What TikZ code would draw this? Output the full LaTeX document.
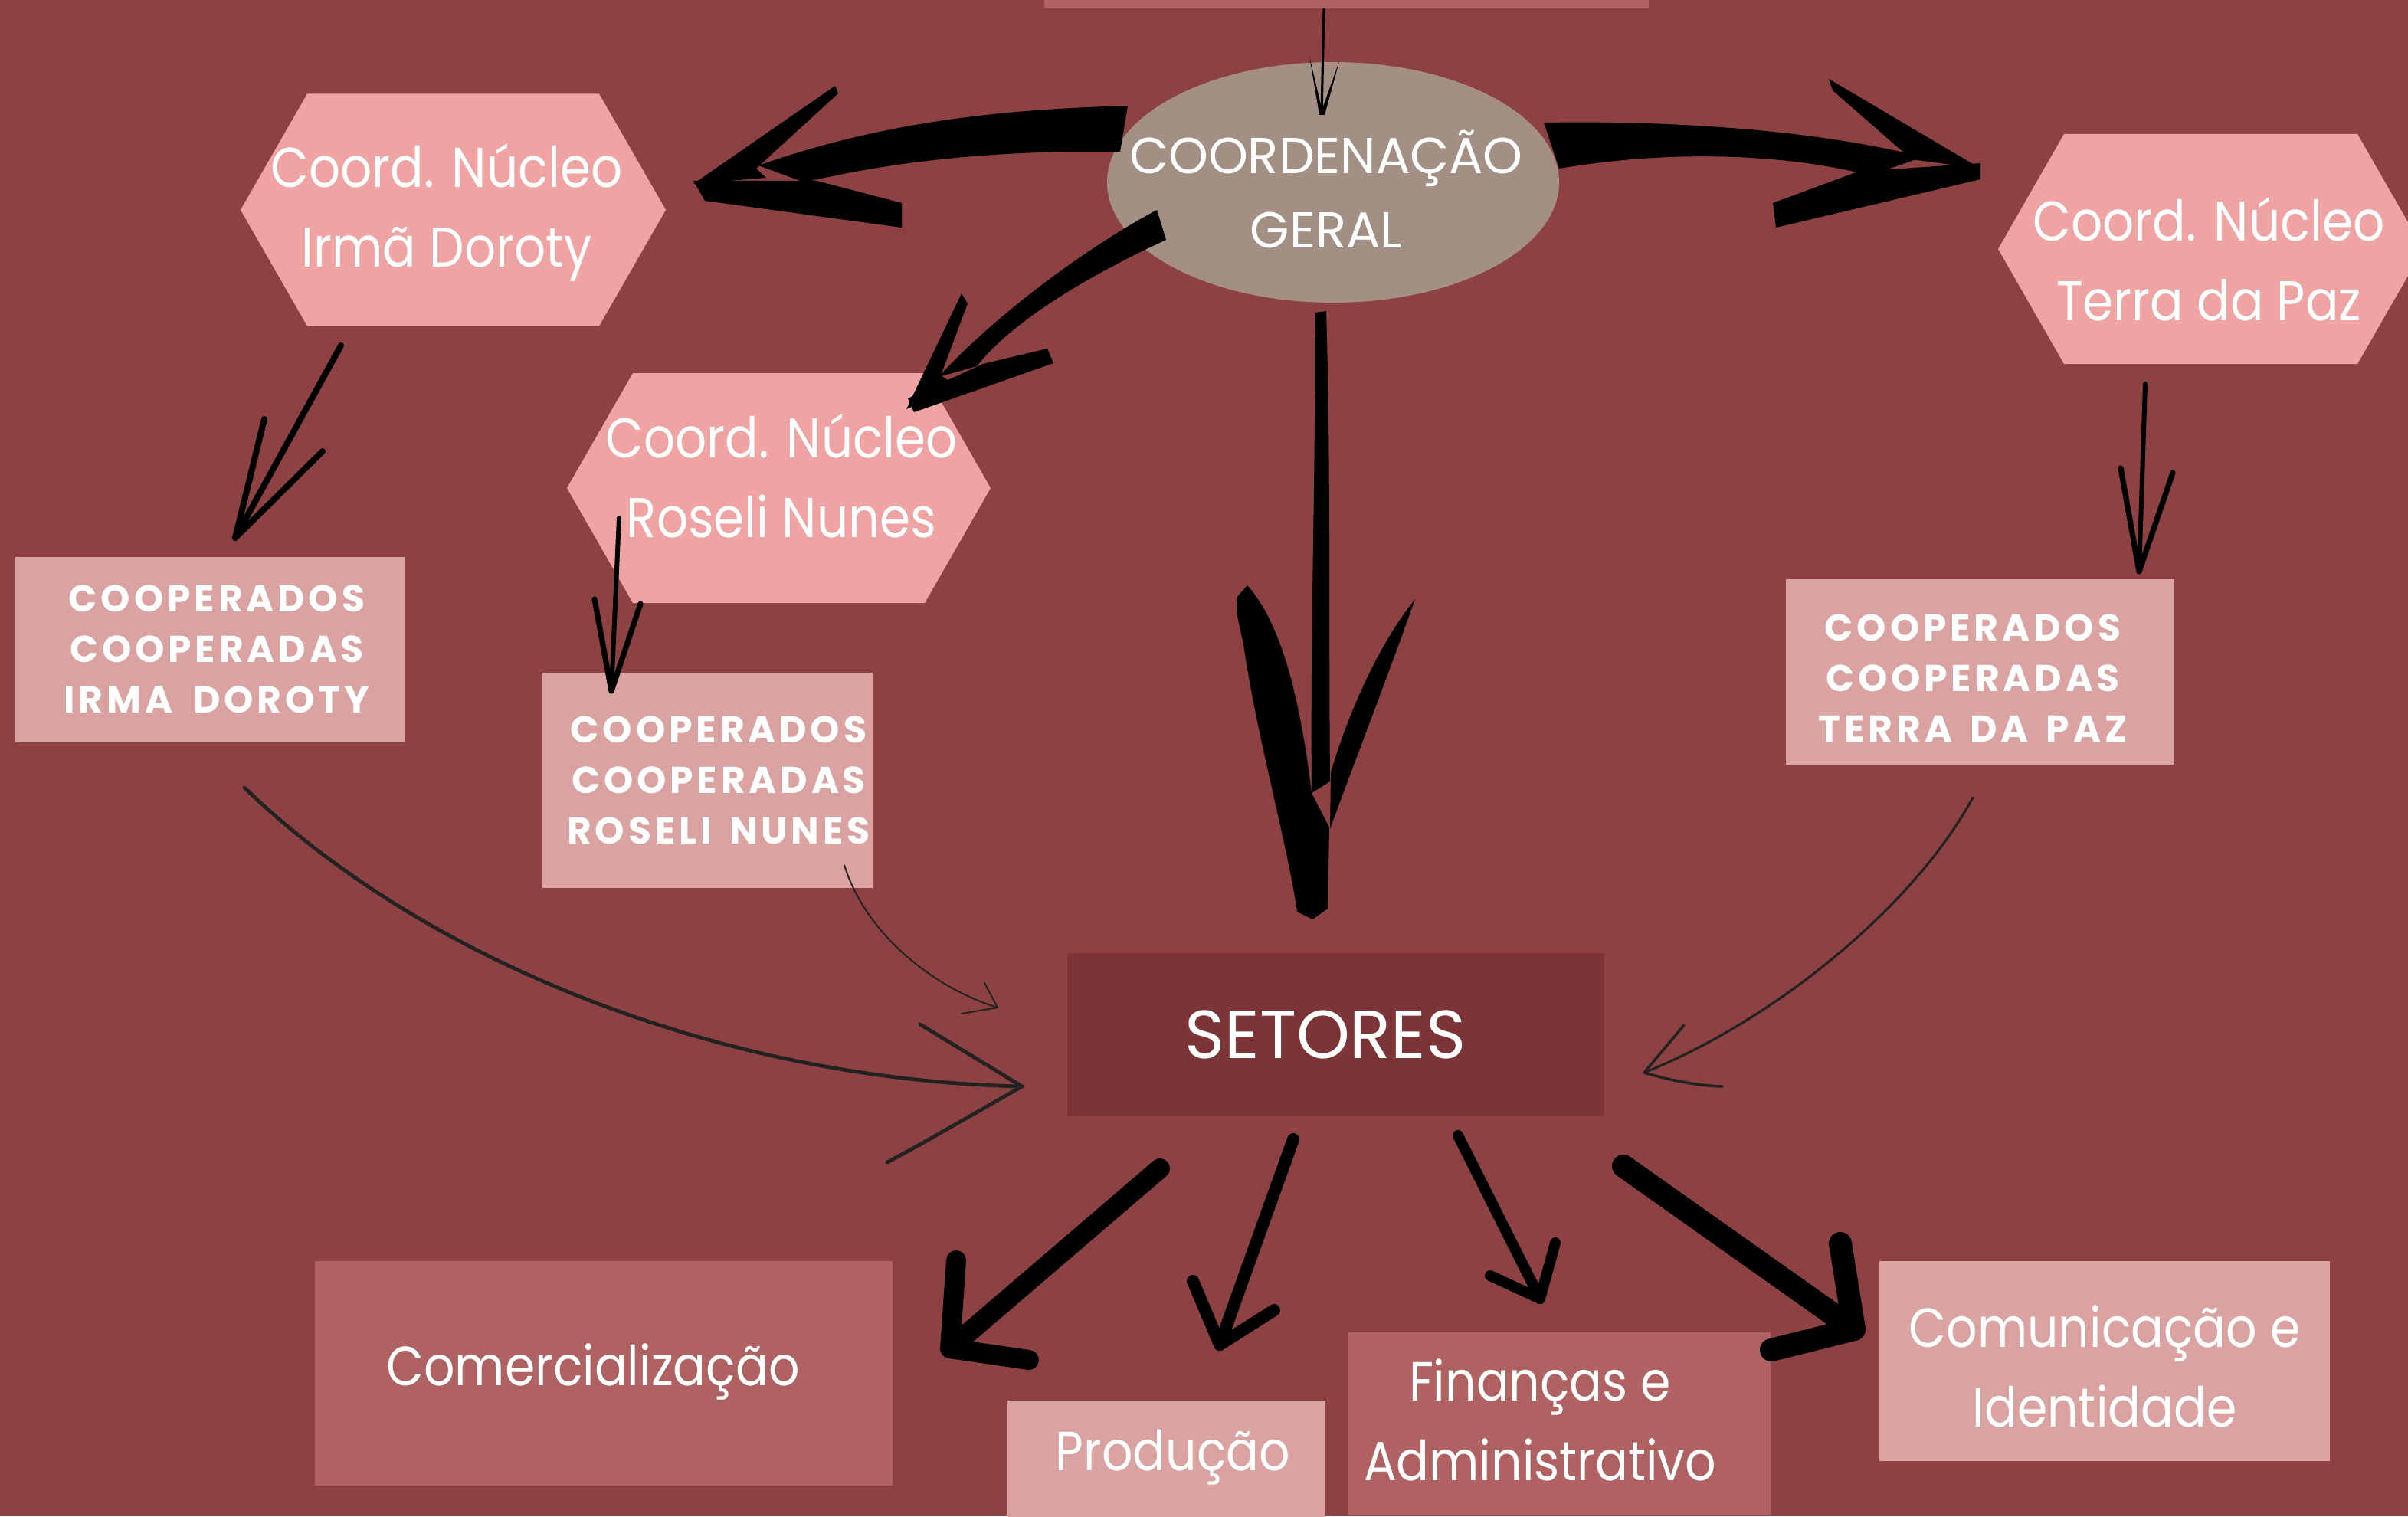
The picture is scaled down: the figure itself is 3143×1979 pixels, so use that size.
\documentclass[tikz,border=0pt]{standalone}
\usepackage{fontspec}
\usetikzlibrary{shapes.geometric}
\setmainfont{Poppins}
\newfontfamily\narrowfont[FakeStretch=0.88]{Poppins}
\newfontfamily\coopfont[LetterSpace=10]{Poppins}
\definecolor{bg}{HTML}{8E4142}
\definecolor{hexc}{HTML}{F0A3A3}
\definecolor{lightc}{HTML}{DBA2A2}
\definecolor{midc}{HTML}{B06262}
\definecolor{darkc}{HTML}{7C3436}
\definecolor{ellc}{HTML}{A38F84}
\definecolor{curvec}{HTML}{222222}
\begin{document}
\begin{tikzpicture}[x=0.25pt,y=-0.25pt,
  boxnode/.style={inner sep=0pt,outer sep=0pt},
  lbl/.style={text=white,align=center,inner sep=0pt},
  hextxt/.style={lbl,font=\fontsize{18.3pt}{26pt}\narrowfont},
  cooptxt/.style={lbl,font=\fontsize{12.2pt}{16.5pt}\coopfont\bfseries},
  boxtxt/.style={lbl,font=\fontsize{18pt}{26pt}\narrowfont},
  brush/.style={fill=black},
  pen/.style={draw=black,line cap=round,line join=round},
  thinline/.style={draw=curvec,line cap=round,line join=round}]
\fill[bg] (0,0) rectangle (3143,1979);
\useasboundingbox (0,0) rectangle (3143,1979);

% ---------- shapes ----------
\node[boxnode,fill=midc,minimum width=197.25pt,minimum height=15pt] (top) at (1757.5,-19) {};
\node[boxnode,ellipse,fill=ellc,minimum width=147.5pt,minimum height=78.5pt] (geral) at (1740,238) {};
\node[lbl,font=\fontsize{16.5pt}{24.25pt}\selectfont] (geraltxt) at (1731,247) {COORDENAÇÃO\\GERAL};

\fill[hexc] (401,122.5) -- (782,122.5) -- (869,274) -- (782,425.5) -- (401,425.5) -- (314,274) -- cycle;
\node[hextxt] (h1) at (583,277) {Coord. Núcleo\\Irmã Doroty};
\fill[hexc] (826,487) -- (1207,487) -- (1293,637) -- (1207,787) -- (826,787) -- (740,637) -- cycle;
\node[hextxt] (h2) at (1020,621) {Coord. Núcleo\\Roseli Nunes};
\fill[hexc] (2694,175) -- (3077,175) -- (3077,475) -- (2694,475) -- (2608,325) -- cycle;
\fill[hexc] (3077,175) -- (3163,325) -- (3077,475) -- cycle;
\node[hextxt] (h3) at (2883,338) {Coord. Núcleo\\Terra da Paz};

\node[boxnode,fill=lightc,minimum width=127pt,minimum height=60.5pt] (c1) at (274,848) {};
\node[cooptxt] (c1t) at (283,847) {COOPERADOS\\COOPERADAS\\IRMA\hspace{3pt} DOROTY};
\node[boxnode,fill=lightc,minimum width=107.75pt,minimum height=70.25pt] (c2) at (923.5,1018.5) {};
\node[cooptxt] (c2t) at (938,1018) {COOPERADOS\\COOPERADAS\\ROSELI\hspace{2pt} NUNES};
\node[boxnode,fill=lightc,minimum width=126.75pt,minimum height=60.5pt] (c3) at (2584.5,877) {};
\node[cooptxt] (c3t) at (2575,885) {COOPERADOS\\COOPERADAS\\TERRA\hspace{2pt} DA\hspace{2pt} PAZ};

\node[boxnode,fill=darkc,minimum width=175.25pt,minimum height=53pt] (set) at (1743.5,1350) {};
\node[lbl,font=\fontsize{22.2pt}{26pt}\selectfont] (settxt) at (1730,1350) {SETORES};

\node[boxnode,fill=midc,minimum width=188.5pt,minimum height=73.25pt] (com) at (788,1792.5) {};
\node[boxtxt] (comt) at (774,1790) {Comercialização};
\node[boxnode,fill=lightc,minimum width=103.75pt,minimum height=43pt] (pro) at (1522.5,1914) {};
\node[boxtxt] (prot) at (1531,1902) {Produção};
\node[boxnode,fill=midc,minimum width=137.75pt,minimum height=59.5pt] (fin) at (2035.5,1858) {};
\node[boxtxt] (fint) at (2010,1853) {Finanças e\\Administrativo};
\node[boxnode,fill=lightc,minimum width=147pt,minimum height=65.25pt] (cmi) at (2747,1776.5) {};
\node[boxtxt] (cmit) at (2747,1783) {Comunicação e\\Identidade};

% ---------- connector end points ----------
\coordinate (topS) at (1728,12);   \coordinate (topT) at (1725,148);
\coordinate (h1S) at (445,451);    \coordinate (h1T) at (307,702);
\coordinate (h2S) at (808,676);    \coordinate (h2T) at (798,902);
\coordinate (h3S) at (2800,501);   \coordinate (h3T) at (2792,746);
\coordinate (t1S) at (319,1028);   \coordinate (t1T) at (1334,1418);
\coordinate (t2S) at (1102,1129);  \coordinate (t2T) at (1302,1315);
\coordinate (t3S) at (2575,1041);  \coordinate (t3T) at (2146,1400);
\coordinate (aS) at (1514,1525);   \coordinate (aT) at (1240,1760);
\coordinate (bS) at (1688,1487);   \coordinate (bT) at (1592,1755);
\coordinate (cS) at (1903,1482);   \coordinate (cT) at (2010,1695);
\coordinate (dS) at (2119,1522);   \coordinate (dT) at (2420,1735);

% ---------- small arrow top box -> geral ----------
\draw[pen,line width=0.8pt] (topS) -- (topT);
\fill[black] (1709,73) -- (1727,150) -- (1722,150) -- cycle;
\fill[black] (1748,80) -- (1723,150) -- (1729,150) -- cycle;

% ---------- big brush arrow geral -> h1 ----------
\fill[brush] (1472,138) .. controls (1300,143) and (1150,160) .. (990,216)
  -- (1050,238) .. controls (1180,207) and (1320,196) .. (1462,198) -- cycle;
\fill[brush] (905,240) -- (1090,112) -- (1094,122) -- (987,220) -- (1000,232) -- cycle;
\fill[brush] (905,236) -- (1066,236) -- (1177,265) -- (1177,297) -- (920,262) -- cycle;

% ---------- big brush arrow geral -> h3 ----------
\fill[brush] (2015,160) .. controls (2200,157) and (2380,172) .. (2510,205)
  -- (2440,229) .. controls (2350,205) and (2200,192) .. (2035,220) -- cycle;
\fill[brush] (2387,103) -- (2585,220) -- (2495,208) -- (2392,118) -- cycle;
\fill[brush] (2585,213) -- (2585,234) -- (2318,297) -- (2314,265) -- (2425,224) -- cycle;

% ---------- brush arrow geral -> h2 ----------
\fill[brush] (1510,274) .. controls (1420,322) and (1300,410) .. (1225,492)
  -- (1275,478) .. controls (1320,420) and (1420,360) .. (1522,313) -- cycle;
\fill[brush] (1183,534) -- (1255,383) -- (1263,396) -- (1228,490) -- (1250,505) -- cycle;
\fill[brush] (1185,520) -- (1283,475) -- (1367,455) -- (1375,474) -- (1193,538) -- cycle;

% ---------- big arrow geral -> setores ----------
\fill[brush] (1716,408) -- (1731,406) .. controls (1737,600) and (1734,800) .. (1736,1020)
  -- (1712,1035) .. controls (1710,800) and (1718,600) .. (1716,408) -- cycle;
\fill[brush] (1614,780) -- (1628,764) .. controls (1660,800) and (1692,870) .. (1712,1035)
  -- (1735,1080) -- (1733,1186) -- (1713,1200) -- (1693,1190)
  .. controls (1680,1100) and (1640,960) .. (1623,841) -- (1614,800) -- cycle;
\fill[brush] (1847,782) .. controls (1800,840) and (1760,930) .. (1737,1008)
  -- (1736,1082) .. controls (1762,1010) and (1805,900) .. (1847,782) -- cycle;

% ---------- hexagon -> cooperados ----------
\draw[pen,line width=2pt] (h1S) -- (h1T);
\draw[pen,line width=2pt] (345,547) -- (h1T) -- (421,589);
\draw[pen,line width=1.5pt] (h2S) -- (h2T);
\draw[pen,line width=1.8pt] (776,782) -- (h2T) -- (836,788);
\draw[pen,line width=1.5pt] (h3S) -- (h3T);
\draw[pen,line width=1.8pt] (2768,611) -- (h3T) -- (2836,617);

% ---------- thin curves cooperados -> setores ----------
\draw[thinline,line width=1.2pt] (t1S) .. controls (560,1260) and (950,1410) .. (t1T);
\draw[thinline,line width=1.2pt] (1201,1337) -- (t1T) .. controls (1260,1460) and (1200,1495) .. (1158,1517);
\draw[thinline,line width=0.5pt] (t2S) .. controls (1130,1220) and (1220,1290) .. (t2T);
\draw[thinline,line width=0.5pt] (1285,1283) -- (t2T) -- (1255,1323);
\draw[thinline,line width=0.8pt] (t3S) .. controls (2500,1180) and (2320,1330) .. (t3T);
\draw[thinline,line width=0.9pt] (2198,1338) -- (t3T) .. controls (2180,1410) and (2215,1417) .. (2248,1418);

% ---------- setores -> sectors ----------
\draw[pen,line width=6.5pt] (aS) -- (aT);
\draw[pen,line width=6.5pt] (1248,1645) -- (aT) -- (1343,1775);
\draw[pen,line width=4pt] (bS) -- (bT);
\draw[pen,line width=4pt] (1557,1672) -- (bT) -- (1663,1710);
\draw[pen,line width=3.5pt] (cS) -- (cT);
\draw[pen,line width=3.5pt] (1945,1665) -- (cT) -- (2030,1622);
\draw[pen,line width=7.5pt] (dS) -- (dT);
\draw[pen,line width=7.5pt] (2402,1623) -- (dT) -- (2312,1762);
\end{tikzpicture}
\end{document}
